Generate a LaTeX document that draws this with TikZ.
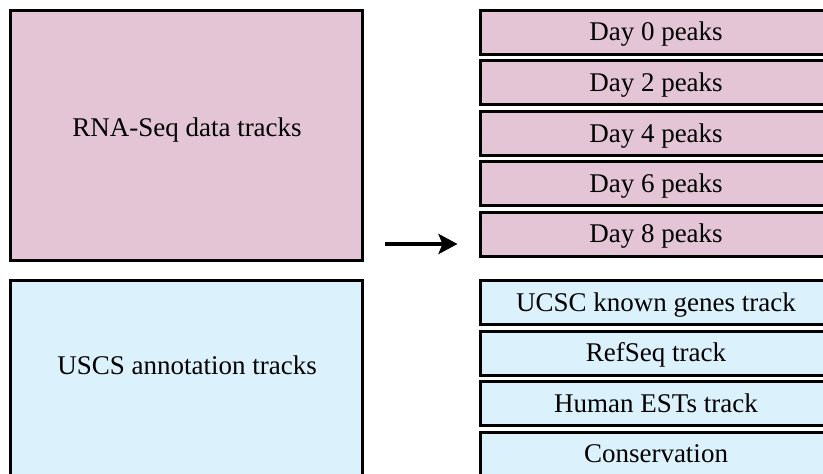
\documentclass[tikz,border=0pt]{standalone}
\usepackage{fontspec}
\setmainfont{Liberation Serif}
\usetikzlibrary{arrows.meta}
\definecolor{rnapink}{RGB}{227,197,213}
\definecolor{ucscblue}{RGB}{219,241,252}
\begin{document}
\begin{tikzpicture}[x=1pt,y=-1pt,
  box/.style={draw=black,line width=3pt,inner sep=0pt,font=\fontsize{27}{32}\selectfont},
  pinkbox/.style={box,fill=rnapink},
  bluebox/.style={box,fill=ucscblue},
  trackbox/.style={minimum width=352pt,minimum height=44pt,text height=20pt,text depth=3pt},
  bigbox/.style={minimum width=352pt,minimum height=250pt},
  lbl/.style={font=\fontsize{27}{32}\selectfont,inner sep=0pt,anchor=base}]
\useasboundingbox (0,0) rectangle (823,474);
\clip (0,0) rectangle (823,474);
% left column
\node[pinkbox,bigbox] (rna) at (186,135) {};
\node[lbl] (rnalbl) at (187,136.7) {RNA-Seq data tracks};
\node[bluebox,bigbox] (usc) at (186,405) {};
\node[lbl] (usclbl) at (187,374) {USCS annotation tracks};
% right column: peaks
\node[pinkbox,trackbox] (d0) at (656,32) {Day 0 peaks};
\node[pinkbox,trackbox] (d2) at (656,82.5) {Day 2 peaks};
\node[pinkbox,trackbox] (d4) at (656,133.5) {Day 4 peaks};
\node[pinkbox,trackbox] (d6) at (656,183.5) {Day 6 peaks};
\node[pinkbox,trackbox] (d8) at (656,234) {Day 8 peaks};
% right column: annotation tracks
\node[bluebox,trackbox] (kg) at (656,302.5) {UCSC known genes track};
\node[bluebox,trackbox] (rs) at (656,353) {RefSeq track};
\node[bluebox,trackbox] (est) at (656,403.5) {Human ESTs track};
\node[bluebox,trackbox] (cons) at (656,454) {Conservation};
% arrow
\coordinate (as) at (385,244);
\coordinate (ae) at (457.5,244);
\draw[line width=4pt,-{Stealth[length=19pt,width=20pt,inset=4pt]}] (as) -- (ae);
\end{tikzpicture}
\end{document}
